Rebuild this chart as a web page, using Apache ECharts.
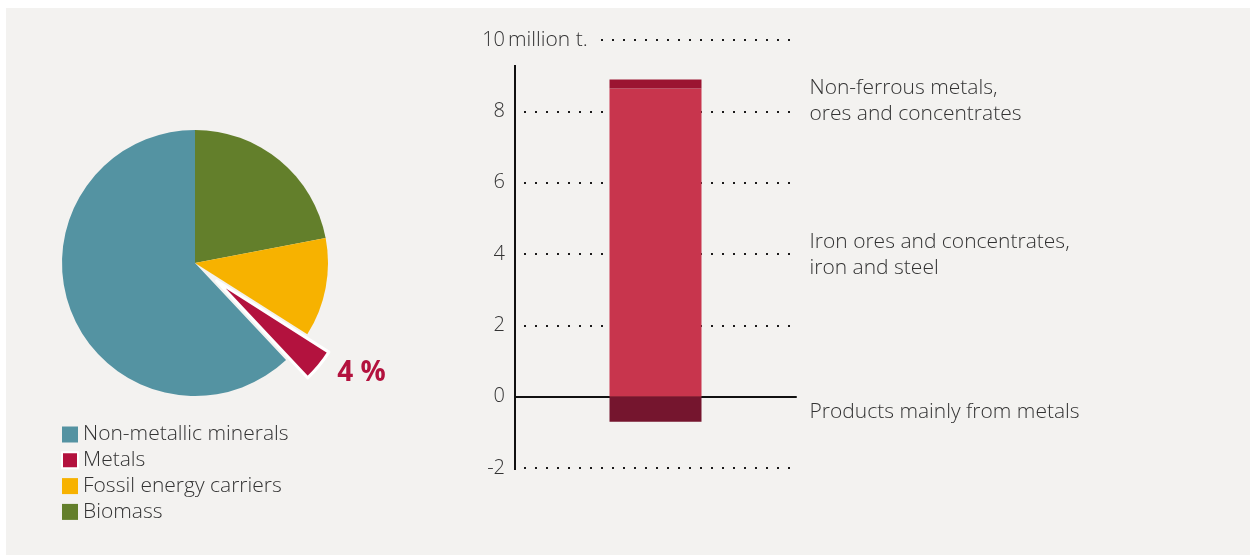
<!DOCTYPE html>
<html>
<head>
<meta charset="utf-8">
<title>Raw material imports and metals balance</title>
<script src="https://cdn.jsdelivr.net/npm/echarts@6/dist/echarts.min.js"></script>
<style>
  html, body { margin: 0; padding: 0; background: #ffffff; }
  #chart { position: absolute; left: 6px; top: 8px; width: 1244px; height: 547px; background: #f3f2f0; }
</style>
</head>
<body>
<div id="chart"></div>
<script>
// Pie: share of raw material groups (percent)
const pieCategories = ['Biomass', 'Fossil energy carriers', 'Metals', 'Non-metallic minerals'];
const pieValues = [22, 12, 4, 62];
const pieColors = ['#637f2b', '#f7b200', '#b3123e', '#5493a2'];
const legendOrder = ['Non-metallic minerals', 'Metals', 'Fossil energy carriers', 'Biomass'];

// Bar: metals balance (million t.)
const barCategories = ['Metals'];
const barSeriesNames = ['Iron ores and concentrates, iron and steel', 'Non-ferrous metals, ores and concentrates', 'Products mainly from metals'];
const barLabels = ['Iron ores and concentrates,\niron and steel', 'Non-ferrous metals,\nores and concentrates', 'Products mainly from metals'];
const barValues = [[8.64], [0.25], [-0.7]];
const barColors = ['#c8354d', '#9b1431', '#75152e'];
const barLabelShift = [12, 17, 3];

// Value axis
const yMin = -2, yMax = 10, yStep = 2;
const axisTop = 9.3;
const unitLabel = 'million t.';

const FONT = '"Open Sans"';
const TEXT = '#333333';
const BG = '#f3f2f0';
const FS = 21;
const FS_TICK = 20;

const chart = echarts.init(document.getElementById('chart'), null, { renderer: 'canvas' });

const barSeries = barSeriesNames.map((name, i) => ({
  type: 'bar',
  name: name,
  stack: 'metals',
  data: barValues[i],
  barWidth: 92,
  itemStyle: { color: barColors[i] },
  label: {
    show: true,
    position: 'right',
    distance: 108,
    offset: [0, barLabelShift[i]],
    formatter: () => barLabels[i],
    fontFamily: FONT,
    fontWeight: 300,
    fontSize: FS,
    lineHeight: 26,
    color: TEXT,
    align: 'left'
  },
  emphasis: { disabled: true },
  silent: true
}));

const option = {
  animation: false,
  textStyle: { fontFamily: FONT },
  legend: {
    data: legendOrder,
    orient: 'vertical',
    left: 55,
    top: 416,
    padding: 0,
    itemWidth: 16,
    itemHeight: 16,
    itemGap: 4.8,
    icon: 'rect',
    selectedMode: false,
    textStyle: { fontFamily: FONT, fontWeight: 300, fontSize: FS, lineHeight: 21, color: TEXT }
  },
  grid: { left: 509, top: 32, width: 281, height: 428, containLabel: false },
  xAxis: {
    type: 'category',
    data: barCategories,
    axisLine: { show: true, onZero: true, lineStyle: { color: '#111', width: 2 } },
    axisTick: { show: false },
    axisLabel: { show: false },
    splitLine: { show: false }
  },
  yAxis: {
    type: 'value',
    min: yMin,
    max: yMax,
    interval: yStep,
    axisLine: { show: false },
    axisTick: { show: false },
    axisLabel: { fontFamily: FONT, fontWeight: 300, fontSize: FS_TICK, color: TEXT, margin: 10 },
    splitLine: { show: true, lineStyle: { type: [2, 9], dashOffset: 2, width: 2, color: '#1a1a1a' } }
  },
  series: [
    {
      type: 'pie',
      center: [189, 255],
      radius: [0, 133],
      startAngle: 90,
      clockwise: true,
      selectedMode: 'single',
      selectedOffset: 28,
      avoidLabelOverlap: false,
      emphasis: { disabled: true },
      silent: true,
      label: { show: false },
      labelLine: { show: false },
      data: pieCategories.map((name, i) => {
        const isMetal = name === 'Metals';
        return {
          name: name,
          value: pieValues[i],
          selected: isMetal,
          itemStyle: isMetal
            ? { color: pieColors[i], borderColor: '#ffffff', borderWidth: 3 }
            : { color: pieColors[i] },
          label: isMetal ? {
            show: true,
            position: 'outside',
            alignTo: 'none',
            formatter: p => p.value + ' %',
            fontFamily: FONT,
            fontWeight: 700,
            fontSize: 28,
            color: pieColors[i]
          } : { show: false },
          labelLine: isMetal ? { show: false, length: 12, length2: 4 } : { show: false }
        };
      })
    },
    ...barSeries
  ]
};

chart.setOption(option);

// Vertical axis line and unit label, placed through the value scale
const pBottom = chart.convertToPixel({ gridIndex: 0 }, [0, yMin]);
const pTop = chart.convertToPixel({ gridIndex: 0 }, [0, axisTop]);
const pMax = chart.convertToPixel({ gridIndex: 0 }, [0, yMax]);
const axisX = chart.getModel().getComponent('grid', 0).coordinateSystem.getRect().x;

chart.setOption({
  graphic: [
    {
      type: 'line',
      z: 10,
      shape: { x1: axisX, y1: pTop[1], x2: axisX, y2: pBottom[1] + 2 },
      style: { stroke: '#111', lineWidth: 2 }
    },
    {
      type: 'text',
      z: 10,
      x: axisX - 7,
      y: pMax[1],
      style: {
        text: unitLabel,
        fontFamily: FONT,
        fontWeight: 300,
        fontSize: FS,
        fill: TEXT,
        align: 'left',
        verticalAlign: 'middle',
        backgroundColor: BG,
        padding: [3, 10, 3, 0]
      }
    }
  ]
});
</script>
</body>
</html>
